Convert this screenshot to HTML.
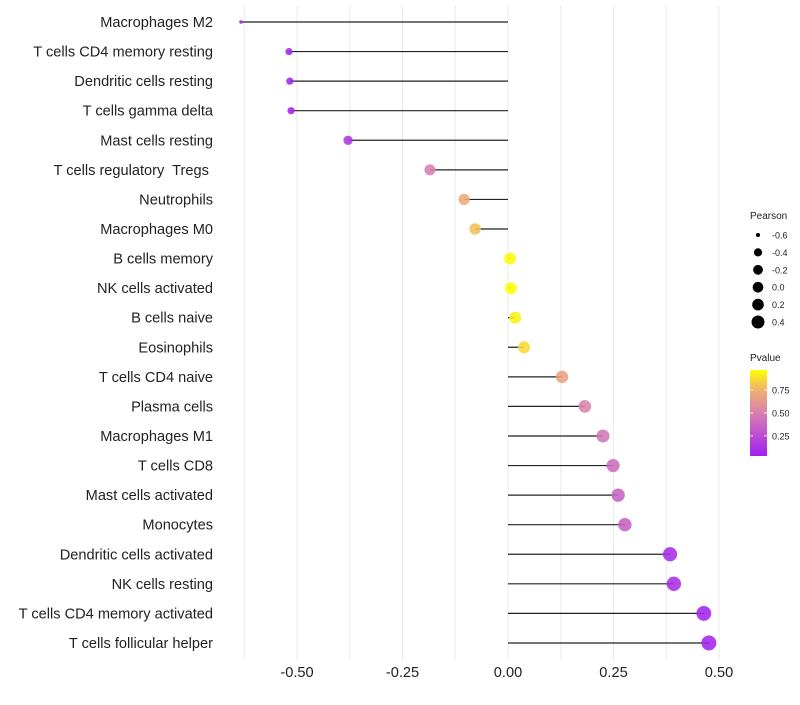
<!DOCTYPE html>
<html><head><meta charset="utf-8"><style>
body{margin:0;background:#fff;}
svg{font-family:"Liberation Sans",sans-serif;}
svg text{white-space:pre;}
</style></head><body>
<svg id="chart" width="800" height="700"></svg>
<script>
const categories=["Macrophages M2","T cells CD4 memory resting","Dendritic cells resting","T cells gamma delta","Mast cells resting","T cells regulatory  Tregs ","Neutrophils","Macrophages M0","B cells memory","NK cells activated","B cells naive","Eosinophils","T cells CD4 naive","Plasma cells","Macrophages M1","T cells CD8","Mast cells activated","Monocytes","Dendritic cells activated","NK cells resting","T cells CD4 memory activated","T cells follicular helper"];
const pearson=[-0.633,-0.519,-0.517,-0.514,-0.379,-0.185,-0.104,-0.078,0.005,0.007,0.017,0.038,0.128,0.182,0.225,0.249,0.261,0.277,0.384,0.393,0.464,0.476];
const pvalues=[0.01,0.05,0.05,0.05,0.15,0.5,0.72,0.8,0.96,0.97,0.93,0.86,0.68,0.52,0.45,0.4,0.36,0.35,0.1,0.1,0.05,0.05];
const xTicks=[-0.5,-0.25,0,0.25,0.5];
const xTickLabels=["-0.50","-0.25","0.00","0.25","0.50"];
const sizeLegend=[-0.6,-0.4,-0.2,0.0,0.2,0.4];
const colorLegend=[0.75,0.5,0.25];

const NS="http://www.w3.org/2000/svg";
const svg=document.getElementById('chart');
const X=v=>508+v*422;
const Y=i=>22+i*29.57;
const sizeAnch=[[-0.64,1.6],[-0.52,3.6],[-0.38,4.7],[-0.185,5.5],[0,5.9],[0.128,6.2],[0.25,6.6],[0.48,7.5]];
function R(v){
  if(v<=sizeAnch[0][0])return sizeAnch[0][1];
  for(let k=1;k<sizeAnch.length;k++){if(v<=sizeAnch[k][0]){const a=sizeAnch[k-1],b=sizeAnch[k];return a[1]+(b[1]-a[1])*(v-a[0])/(b[0]-a[0]);}}
  return sizeAnch[sizeAnch.length-1][1];
}
const stops=[[0.03,[160,32,240]],[0.5,[215,128,175]],[0.75,[240,176,112]],[0.97,[255,255,0]]];
function col(p){
  if(p<=stops[0][0])return 'rgb('+stops[0][1].join(',')+')';
  for(let k=1;k<stops.length;k++){if(p<=stops[k][0]){const a=stops[k-1],b=stops[k];const t=(p-a[0])/(b[0]-a[0]);return 'rgb('+a[1].map((c,j)=>Math.round(c+(b[1][j]-c)*t)).join(',')+')';}}
  return 'rgb('+stops[stops.length-1][1].join(',')+')';
}
function el(t,a,txt){const e=document.createElementNS(NS,t);for(const k in a)e.setAttribute(k,a[k]);if(txt!==undefined)e.textContent=txt;svg.appendChild(e);return e;}
for(let v=-0.625;v<=0.51;v+=0.125){
  const g=el('line',{x1:X(v),x2:X(v),y1:5,y2:660,stroke:'#ebebeb','stroke-width':1});
  
  
}
xTicks.forEach((v,i)=>{
  const t=el('text',{x:X(v),y:677,'text-anchor':'middle','font-size':14.6,fill:'#222'},xTickLabels[i]);
  
  
});
categories.forEach((c,i)=>{
  const t=el('text',{x:213,y:Y(i)+5,'text-anchor':'end','font-size':14.6,fill:'#222'},c);
  
  
  const l=el('line',{x1:X(0),x2:X(pearson[i]),y1:Y(i),y2:Y(i),stroke:'#222','stroke-width':1.2});
  
  
  const d=el('circle',{cx:X(pearson[i]),cy:Y(i),r:R(pearson[i]),fill:col(pvalues[i]),'fill-opacity':0.88});
  
  
});
const st=el('text',{x:750,y:219,'font-size':10,fill:'#222'},'Pearson');


sizeLegend.forEach((v,i)=>{
  const y=235+i*17.4;
  const c=el('circle',{cx:758,cy:y,r:R(v)*0.9,fill:'#000'});
  
  
  const t=el('text',{x:772,y:y+3.5,'font-size':9,fill:'#222'},v.toFixed(1));
  
  
});
const ct=el('text',{x:750,y:361,'font-size':10,fill:'#222'},'Pvalue');


const defs=el('defs',{});
const lg=document.createElementNS(NS,'linearGradient');
lg.setAttribute('id','pg');lg.setAttribute('x1','0');lg.setAttribute('y1','1');lg.setAttribute('x2','0');lg.setAttribute('y2','0');
defs.appendChild(lg);
const cbTop=370,cbBot=456,pTop=0.97,pBot=0.03;
for(let k=0;k<=20;k++){const p=pBot+(pTop-pBot)*k/20;const s=document.createElementNS(NS,'stop');s.setAttribute('offset',k/20);s.setAttribute('stop-color',col(p));lg.appendChild(s);}
const bar=el('rect',{x:750,y:cbTop,width:17,height:cbBot-cbTop,fill:'url(#pg)'});


colorLegend.forEach(p=>{
  const y=cbBot-(p-pBot)/(pTop-pBot)*(cbBot-cbTop);
  el('line',{x1:750,x2:753,y1:y,y2:y,stroke:'#fff','stroke-width':0.8});
  el('line',{x1:764,x2:767,y1:y,y2:y,stroke:'#fff','stroke-width':0.8});
  const t=el('text',{x:772,y:y+3.5,'font-size':9,fill:'#222'},p.toFixed(2));
  
  
});
</script>
</body></html>
